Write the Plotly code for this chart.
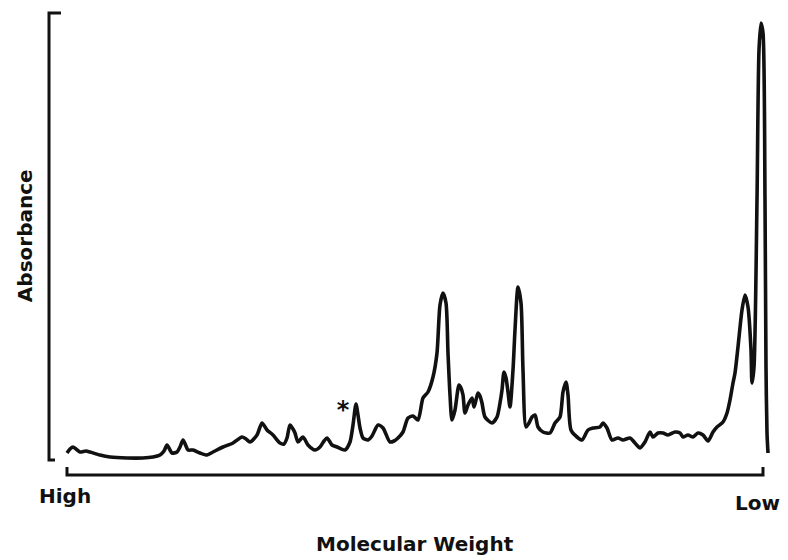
import plotly.graph_objects as go

# Elution position (arbitrary units, left = high MW) and detector absorbance (arbitrary units)
elution = [
    0, 3, 6, 9, 13, 19, 23, 33, 43, 60, 76, 86, 93, 97, 100, 103, 105, 110, 113, 116,
    119, 121, 126, 133, 140, 146, 156, 166, 175, 179, 183, 190, 195, 200, 206, 213, 217, 220, 223, 226,
    228, 231, 236, 241, 248, 253, 257, 260, 263, 265, 270, 278, 283, 286, 289, 291, 293, 296, 301, 305,
    311, 316, 323, 327, 331, 336, 341, 346, 351, 356, 361, 366, 370, 373, 376, 379, 381, 383, 385, 388,
    392, 394, 396, 398, 401, 405, 407, 409, 411, 413, 415, 418, 425, 430, 433, 435, 437, 439, 441, 443,
    446, 448, 451, 454, 456, 459, 462, 465, 468, 471, 476, 483, 488, 493, 496, 499, 501, 504, 510, 515,
    521, 526, 533, 536, 540, 545, 551, 556, 563, 568, 573, 578, 583, 586, 591, 596, 601, 608, 613, 616,
    621, 626, 631, 636, 641, 646, 650, 656, 660, 663, 666, 668, 671, 675, 678, 681, 684, 685, 687, 690,
    692, 694, 696, 698, 699, 700, 701,
]
absorbance = [
    5, 9, 11, 9, 6, 7, 6, 3, 1, 0, 0, 1, 3, 7, 13, 8, 5, 6, 11, 18,
    12, 8, 8, 5, 3, 6, 11, 15, 21, 19, 16, 23, 35, 28, 23, 15, 14, 20, 33, 29,
    25, 16, 21, 13, 8, 11, 17, 20, 16, 13, 11, 8, 16, 33, 54, 43, 30, 20, 18, 22,
    33, 30, 16, 17, 20, 26, 40, 42, 38, 60, 66, 81, 105, 153, 165, 155, 105, 63, 38, 48,
    73, 70, 63, 45, 53, 60, 51, 58, 65, 62, 55, 41, 35, 41, 55, 68, 86, 80, 66, 51,
    88, 128, 171, 155, 88, 31, 35, 41, 43, 31, 26, 25, 35, 41, 66, 76, 63, 28, 21, 18,
    28, 30, 31, 35, 30, 18, 20, 18, 20, 15, 10, 16, 26, 21, 25, 25, 23, 26, 25, 21,
    23, 21, 25, 23, 17, 26, 31, 36, 45, 58, 75, 85, 111, 148, 163, 151, 108, 75, 91, 258,
    408, 435, 425, 258, 91, 25, 5,
]

# Marked fraction
star_pos = [276]
star_abs = [46]

LINE = "#111111"
FONT = "DejaVu Sans, Arial, Helvetica, sans-serif"

fig = go.Figure()
fig.add_trace(go.Scatter(
    x=elution, y=absorbance, mode="lines",
    line=dict(color=LINE, width=3.6, shape="spline", smoothing=0.7),
    hoverinfo="skip", showlegend=False,
))
fig.add_trace(go.Scatter(
    x=star_pos, y=star_abs, mode="text", text=["<b>*</b>"],
    textfont=dict(family=FONT, size=24, color=LINE), textposition="middle center",
    hoverinfo="skip", showlegend=False,
))

axis_common = dict(showgrid=False, zeroline=False, showline=False,
                   showticklabels=False, ticks="", fixedrange=True)
fig.update_xaxes(range=[-19, 703], **axis_common)
fig.update_yaxes(range=[-2, 445], **axis_common)

# Bracket-style axes
bracket = dict(type="path", xref="paper", yref="paper",
               line=dict(color=LINE, width=3))
fig.add_shape(path="M 0.018 1.0 L 0.0014 1.0 L 0.0014 0 L 0.0097 0", **bracket)
fig.add_shape(path="M 0.0263 -0.0157 L 0.0263 -0.0336 L 0.9903 -0.0336 L 0.9903 -0.0157", **bracket)

label = dict(xref="paper", yref="paper", showarrow=False,
             font=dict(family=FONT, size=20, color=LINE))
fig.add_annotation(text="<b>Absorbance</b>", x=-0.0319, y=0.503, textangle=-90,
                   xanchor="center", yanchor="middle", **label)
fig.add_annotation(text="<b>High</b>", x=0.0235, y=-0.0806,
                   xanchor="center", yanchor="middle", **label)
fig.add_annotation(text="<b>Low</b>", x=1.017, y=-0.0962,
                   xanchor="right", yanchor="middle", **label)
fig.add_annotation(text="<b>Molecular Weight</b>", x=0.508, y=-0.188,
                   xanchor="center", yanchor="middle", **label)

fig.update_layout(
    width=788, height=560,
    margin=dict(l=48, r=18, t=13, b=100),
    paper_bgcolor="white", plot_bgcolor="white",
)

fig.write_html("out.html")
